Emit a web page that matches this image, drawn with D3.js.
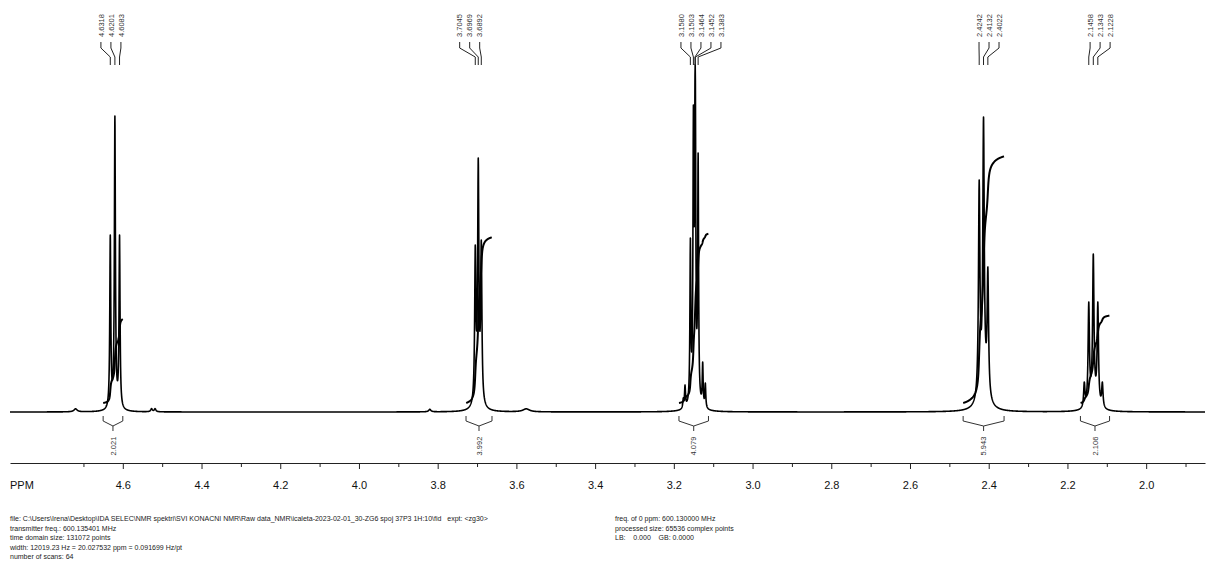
<!DOCTYPE html>
<html><head><meta charset="utf-8">
<script src="https://cdn.jsdelivr.net/npm/d3@7"></script>
<style>
body{margin:0;background:#fff;}
svg{display:block;font-family:"Liberation Sans",Arial,sans-serif;}
text{white-space:pre;}
</style></head><body><svg id="c" width="1211" height="567"></svg>
<script>
// ---------------- data ----------------
// labelled peaks (ppm) and their group index
const peakPpm   = [4.6318,4.6201,4.6083, 3.7045,3.6969,3.6892, 3.1580,3.1503,3.1464,3.1452,3.1383, 2.4242,2.4132,2.4022, 2.1458,2.1343,2.1228];
const peakGroup = [0,0,0, 1,1,1, 2,2,2,2,2, 3,3,3, 4,4,4];
// sharp lines: centre (ppm), apex intensity, half-width (Hz)
const linePpm  = [4.6318,4.6201,4.6083, 3.7045,3.6969,3.6892, 3.1760,3.1716,3.1580,3.1503,3.1464,3.1452,3.1383,3.1267,3.1200, 2.4242,2.4132,2.4022, 2.1572,2.1458,2.1343,2.1228,2.1113];
const lineApex = [177,296,177, 167,254,172, 14,27,174,307,328,328,259,50,29, 232,295,145, 30,110,158,110,30];
const lineHz   = [0.9,0.9,0.9, 1.1,1.1,1.1, 0.9,0.9,0.8,0.8,0.8,0.8,0.8,0.8,0.8, 1.3,1.3,1.3, 1.2,1.2,1.2,1.2,1.2];
// broad features and baseline ripples: centre (ppm), amplitude, half-width (Hz)
const broadPpm = [4.620,3.697,3.148,2.413,2.134, 4.720,4.527,4.518,3.820,3.575];
const broadAmp = [6,10,10,22,12, 3,3,3,2.5,3];
const broadHz  = [4,5,5,7,6, 3,1.5,1.5,2,6];
// integrals
const integralFrom   = [4.650,3.728,3.187,2.465,2.167];
const integralTo     = [4.600,3.662,3.112,2.361,2.093];
const integralValues = [2.021,3.992,4.079,5.943,2.106];
// axis ticks
const majorTicks = [4.6,4.4,4.2,4.0,3.8,3.6,3.4,3.2,3.0,2.8,2.6,2.4,2.2,2.0];
const minorTicks = [4.7,4.5,4.3,4.1,3.9,3.7,3.5,3.3,3.1,2.9,2.7,2.5,2.3,2.1,1.9];
const tickLabels = ["4.6","4.4","4.2","4.0","3.8","3.6","3.4","3.2","3.0","2.8","2.6","2.4","2.2","2.0"];
const footerLeft = [
  "file: C:\\Users\\Irena\\Desktop\\IDA SELEC\\NMR spektri\\SVI KONACNI NMR\\Raw data_NMR\\icaleta-2023-02-01_30-ZG6 spoj 37P3 1H:10\\fid   expt: <zg30>",
  "transmitter freq.: 600.135401 MHz",
  "time domain size: 131072 points",
  "width: 12019.23 Hz = 20.027532 ppm = 0.091699 Hz/pt",
  "number of scans: 64"];
const footerRight = [
  "freq. of 0 ppm: 600.130000 MHz",
  "processed size: 65536 complex points",
  "LB:    0.000    GB: 0.0000"];
const spectrometerMHz = 600.135401;

// ---------------- layout ----------------
const labelShift = [-4,-8.6,6.5,5.5,6.8];
const svg = d3.select("#c");
const x = d3.scaleLinear().domain([4.8866,1.8505]).range([10,1205]);
const y = d3.scaleLinear().domain([0,350]).range([412,62]);
const yI = d3.scaleLinear().domain([0,1]).range([403,361.5]);

const hz2ppm = h => h/spectrometerMHz;
const lor = (d,w) => w*w/(w*w+d*d);
function broadAt(p){let s=0;for(let k=0;k<broadPpm.length;k++)s+=broadAmp[k]*lor(p-broadPpm[k],hz2ppm(broadHz[k]));return s;}
// solve amplitudes so that apex heights match
const n = linePpm.length, gw = lineHz.map(hz2ppm);
const M = [], b = [];
for(let i=0;i<n;i++){M.push(linePpm.map((c,j)=>lor(linePpm[i]-c,gw[j])));b.push(lineApex[i]-broadAt(linePpm[i]));}
for(let c=0;c<n;c++){let p=c;for(let r=c+1;r<n;r++)if(Math.abs(M[r][c])>Math.abs(M[p][c]))p=r;
  [M[c],M[p]]=[M[p],M[c]];[b[c],b[p]]=[b[p],b[c]];
  for(let r=0;r<n;r++){if(r===c)continue;const f=M[r][c]/M[c][c];if(!f)continue;for(let k=c;k<n;k++)M[r][k]-=f*M[c][k];b[r]-=f*b[c];}}
const amp = b.map((v,i)=>v/M[i][i]);
function spec(p){let s=broadAt(p);for(let j=0;j<n;j++)s+=amp[j]*lor(p-linePpm[j],gw[j]);return s;}

const d0=x.domain()[0], d1=x.domain()[1], step=(d0-d1)/((1205-10)*5);
let ps=[];for(let p=d0;p>=d1;p-=step)ps.push(p);
ps=ps.concat(linePpm).sort((a,c)=>c-a);
const pts = ps.map(p=>({p,v:spec(p)}));

// spectrum
svg.append("path").datum(pts).attr("fill","none").attr("stroke","#000").attr("stroke-width",1.6)
  .attr("stroke-linejoin","round")
  .attr("d",d3.line().x(d=>x(d.p)).y(d=>y(d.v)));

// integrals
integralValues.forEach((val,r)=>{
  const seg = pts.filter(d=>d.p<=integralFrom[r]&&d.p>=integralTo[r]);
  let cum=0; const c=[0];
  for(let k=1;k<seg.length;k++){cum+=(seg[k].v+seg[k-1].v)/2*(seg[k-1].p-seg[k].p);c.push(cum);}
  const data = seg.map((d,k)=>({p:d.p,i:c[k]/cum*val}));
  svg.append("path").datum(data).attr("fill","none").attr("stroke","#000").attr("stroke-width",2)
    .attr("d",d3.line().x(d=>x(d.p)).y(d=>yI(d.i)));
  const x1=x(integralFrom[r]), x2=x(integralTo[r]), xc=(x1+x2)/2;
  svg.append("path").attr("fill","none").attr("stroke","#333").attr("stroke-width",1)
    .attr("d",`M${x1},416V421L${xc},426L${x2},421V416M${xc},426V431`);
  svg.append("text").attr("transform",`translate(${xc},446) rotate(-90)`).attr("text-anchor","middle")
    .attr("dy","0.35em").attr("font-size",7.5).attr("fill","#333").text(val.toFixed(3));
});

// peak labels
d3.range(5).forEach(gi=>{
  const idx = peakGroup.map((g,i)=>g===gi?i:-1).filter(i=>i>=0);
  const cx = d3.mean(idx,i=>x(peakPpm[i]))+labelShift[gi];
  idx.forEach((i,k)=>{
    const lx = cx+(k-(idx.length-1)/2)*10, px=x(peakPpm[i]);
    svg.append("text").attr("transform",`translate(${lx},37) rotate(-90)`).attr("dy","0.35em")
      .attr("font-size",7.5).attr("fill","#333").text(peakPpm[i].toFixed(4));
    svg.append("path").attr("fill","none").attr("stroke","#222").attr("stroke-width",1)
      .attr("d",`M${lx},42V48L${px},57V65`);
  });
});

// axis
const ax = svg.append("g").attr("transform","translate(0,463)")
  .call(d3.axisBottom(x).tickValues(majorTicks).tickSize(6).tickSizeOuter(0).tickPadding(12)
    .tickFormat((d,i)=>tickLabels[i]));
ax.select(".domain").attr("stroke","#222");
ax.selectAll(".tick line").attr("stroke","#222");
ax.selectAll("text").attr("font-size",11).attr("fill","#111").attr("font-family","Liberation Sans, Arial, sans-serif");
const axm = svg.append("g").attr("transform","translate(0,463)")
  .call(d3.axisBottom(x).tickValues(minorTicks).tickSize(4).tickSizeOuter(0).tickFormat(""));
axm.select(".domain").remove();
axm.selectAll(".tick line").attr("stroke","#222");
svg.append("text").attr("x",10).attr("y",463+6+12).attr("dy","0.71em").attr("font-size",11).attr("fill","#111").text("PPM");

// footer
footerLeft.forEach((t,i)=>svg.append("text").attr("x",10).attr("y",521+i*9.5).attr("font-size",7).attr("fill","#222").text(t));
footerRight.forEach((t,i)=>svg.append("text").attr("x",615).attr("y",521+i*9.5).attr("font-size",7).attr("fill","#222").text(t));
</script></body></html>
